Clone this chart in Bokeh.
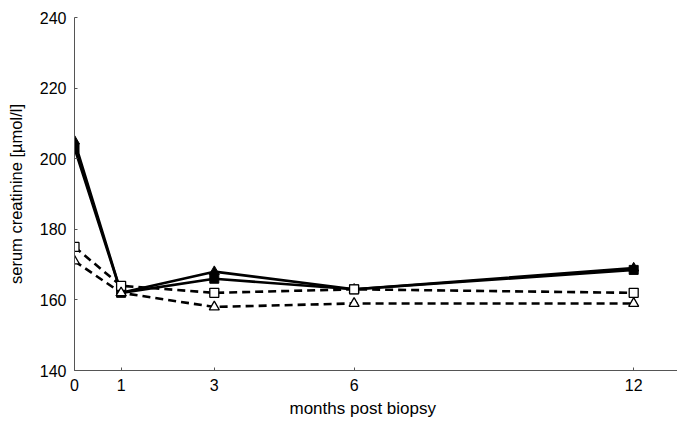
from bokeh.plotting import figure
from bokeh.models import Range1d, FixedTicker, Title
from bokeh.embed import file_html
from bokeh.resources import INLINE

months = [0, 1, 3, 6, 12]
solid_square = [203, 162, 166, 163, 168.5]
solid_triangle = [205, 162, 168, 163, 169]
dashed_square = [175, 164, 162, 163, 162]
dashed_triangle = [171, 162, 158, 159, 159]
x_ticks = [0, 1, 3, 6, 12]
y_ticks = [140, 160, 180, 200, 220, 240]

FONT = "Liberation Sans"

p = figure(width=677, height=424, output_backend="svg", toolbar_location=None,
           x_range=Range1d(0, 12.94), y_range=Range1d(140, 240),
           min_border_left=74, min_border_right=0, min_border_top=17, min_border_bottom=54)
p.outline_line_color = None
p.xgrid.visible = False
p.ygrid.visible = False
p.background_fill_color = "white"
p.border_fill_color = "white"

# lines
p.line(months, solid_triangle, line_color="black", line_width=2.6)
p.line(months, solid_square, line_color="black", line_width=2.6)
p.line(months, dashed_square, line_color="black", line_width=2.6, line_dash="8 5")
p.line(months, dashed_triangle, line_color="black", line_width=2.6, line_dash="8 5")

# markers
p.scatter(months, solid_triangle, marker="triangle", size=10, fill_color="black", line_color="black")
p.scatter(months, solid_square, marker="square", size=9, fill_color="black", line_color="black")
p.scatter(months, dashed_square, marker="square", size=9, fill_color="white", line_color="black", line_width=1.3)
p.scatter(months, dashed_triangle, marker="triangle", size=10, fill_color="white", line_color="black", line_width=1.3)

for ax in (p.xaxis[0], p.yaxis[0]):
    ax.axis_line_color = "#555555"
    ax.axis_line_width = 1
    ax.major_tick_line_color = "#555555"
    ax.major_tick_in = 3
    ax.major_tick_out = 0
    ax.minor_tick_line_color = None
    ax.major_label_text_font = FONT
    ax.major_label_text_font_size = "16px"
    ax.major_label_text_color = "black"
    ax.axis_label_text_font = FONT
    ax.axis_label_text_font_size = "16.5px"
    ax.axis_label_text_font_style = "normal"
    ax.axis_label_text_color = "black"

p.xaxis.ticker = FixedTicker(ticks=x_ticks)
p.yaxis.ticker = FixedTicker(ticks=y_ticks)
p.xaxis.major_label_standoff = 8
p.yaxis.major_label_standoff = 8
p.yaxis.axis_label = "serum creatinine [µmol/l]"
p.yaxis.axis_label_standoff = 12

p.add_layout(Title(text="months post biopsy", align="left", offset=215,
                   text_font=FONT, text_font_size="17px", text_font_style="normal",
                   text_color="black", standoff=7), "below")

open("out.html", "w").write(file_html(p, INLINE))
